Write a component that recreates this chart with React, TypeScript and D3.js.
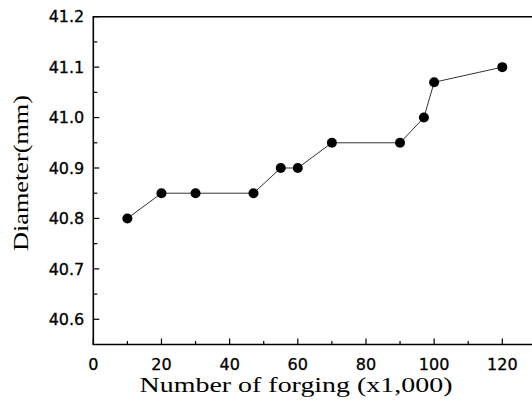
import React from "react";
import * as d3 from "d3";

const forgings = [10, 20, 30, 47, 55, 60, 70, 90, 97, 100, 120];
const diameters = [40.8, 40.85, 40.85, 40.85, 40.9, 40.9, 40.95, 40.95, 41.0, 41.07, 41.1];
const xTicks = [0, 20, 40, 60, 80, 100, 120];
const xMinor = [10, 30, 50, 70, 90, 110, 130];
const yTicks = [40.6, 40.7, 40.8, 40.9, 41.0, 41.1, 41.2];
const yMinor = [40.65, 40.75, 40.85, 40.95, 41.05, 41.15];

const W = 532;
const H = 411;

export default function App() {
  const x = d3.scaleLinear().domain([0, 120]).range([93.3, 502.3]);
  const y = d3.scaleLinear().domain([40.6, 41.2]).range([319.3, 16.7]);
  const left = x(0);
  const bottom = y(40.55);
  const top = y(41.2);
  const right = W + 5;
  const line = d3
    .line<number>()
    .x((_, i) => x(forgings[i]))
    .y((d) => y(d));
  const sans = "'DejaVu Sans', sans-serif";
  const serif = "'Liberation Serif', 'Times New Roman', serif";
  return (
    <svg
      width={W}
      height={H}
      style={{ position: "absolute", left: 0, top: 0, background: "#fff" }}
    >
      <rect x={0} y={0} width={W} height={H} fill="#fff" />
      <path
        d={`M${right},${top}H${left}V${bottom}H${right}`}
        fill="none"
        stroke="#000"
        strokeWidth={1.6}
      />
      {xTicks.map((t) => (
        <g key={"xt" + t}>
          <line x1={x(t)} x2={x(t)} y1={bottom} y2={bottom - 6} stroke="#000" strokeWidth={1.2} />
          <text
            x={x(t)}
            y={bottom + 25}
            textAnchor="middle"
            fontFamily={sans}
            fontSize={16}
            fill="#000"
            stroke="#000"
            strokeWidth={0.3}
          >
            {t}
          </text>
        </g>
      ))}
      {xMinor.map((t) => (
        <line key={"xm" + t} x1={x(t)} x2={x(t)} y1={bottom} y2={bottom - 3.5} stroke="#000" strokeWidth={1.2} />
      ))}
      {yTicks.map((t) => (
        <g key={"yt" + t}>
          <line x1={left} x2={left + 6} y1={y(t)} y2={y(t)} stroke="#000" strokeWidth={1.2} />
          <text
            x={left - 9}
            y={y(t)}
            dy="0.36em"
            textAnchor="end"
            fontFamily={sans}
            fontSize={16}
            fill="#000"
            stroke="#000"
            strokeWidth={0.3}
          >
            {t.toFixed(1)}
          </text>
        </g>
      ))}
      {yMinor.map((t) => (
        <line key={"ym" + t} x1={left} x2={left + 4} y1={y(t)} y2={y(t)} stroke="#000" strokeWidth={1.2} />
      ))}
      <path d={line(diameters) || ""} fill="none" stroke="#333" strokeWidth={1} />
      {diameters.map((d, i) => (
        <circle key={"p" + i} cx={x(forgings[i])} cy={y(d)} r={5} fill="#000" />
      ))}
      <g transform="translate(296,392) scale(1.3,1)">
        <text x={0} y={0} textAnchor="middle" fontFamily={serif} fontSize={21.5} fill="#000">
          Number of forging (x1,000)
        </text>
      </g>
      <g transform="translate(28,173) rotate(-90) scale(1.22,1)">
        <text x={0} y={0} textAnchor="middle" fontFamily={serif} fontSize={21.5} fill="#000">
          Diameter(mm)
        </text>
      </g>
    </svg>
  );
}
